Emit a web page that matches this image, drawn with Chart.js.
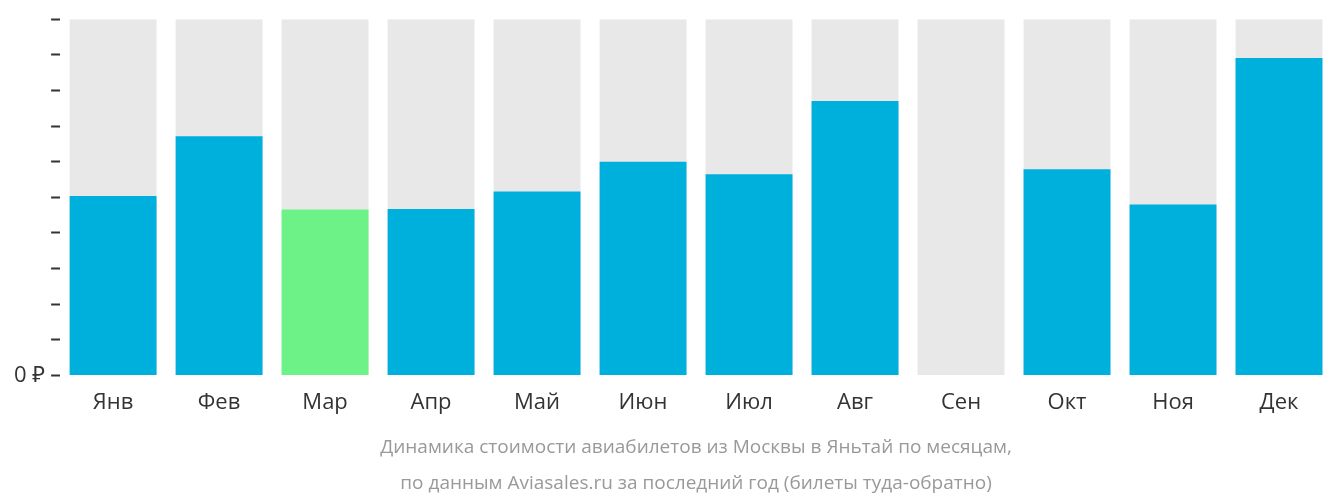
<!DOCTYPE html>
<html>
<head>
<meta charset="utf-8">
<script src="https://cdn.jsdelivr.net/npm/chart.js@4"></script>
<style>
  body { margin: 0; background: #fff; }
  #wrap { width: 1332px; height: 502px; }
</style>
</head>
<body>
<div id="wrap"><canvas id="chart"></canvas></div>
<script>
// Data
const months = ['Янв', 'Фев', 'Мар', 'Апр', 'Май', 'Июн', 'Июл', 'Авг', 'Сен', 'Окт', 'Ноя', 'Дек'];
const prices = [36000, 48000, 33300, 33400, 36900, 42900, 40400, 55100, 0, 41400, 34300, 63700];
const cheapestIndex = 2;
const backgroundMax = 71500;
const tickStep = 7000;
const labelStep = 35000;

const barColors = prices.map((v, i) => i === cheapestIndex ? '#6cf287' : '#00b0dc');

Chart.defaults.font.family = '"Open Sans", "Noto Sans", sans-serif';

function formatPrice(v) {
    const r = Math.round(v);
    if (r % labelStep !== 0) return '';
    return r === 0 ? '0 ₽' : (r / 1000) + ' 000 ₽';
}

new Chart(document.getElementById('chart'), {
    type: 'bar',
    data: {
        labels: months,
        datasets: [
            {
                data: prices,
                backgroundColor: barColors,
                barPercentage: 0.82,
                categoryPercentage: 1,
                order: 0
            },
            {
                data: months.map(() => backgroundMax),
                backgroundColor: '#e8e8e8',
                barPercentage: 0.82,
                categoryPercentage: 1,
                order: 1
            }
        ]
    },
    options: {
        responsive: true,
        maintainAspectRatio: false,
        animation: false,
        layout: { padding: { top: 0, right: 0, left: 8, bottom: 0 } },
        plugins: { legend: { display: false }, tooltip: { enabled: false } },
        scales: {
            x: {
                stacked: true,
                grid: { display: false },
                border: { display: false },
                ticks: { color: '#333', font: { size: 22 }, padding: 6 },
                title: {
                    display: true,
                    text: ['Динамика стоимости авиабилетов из Москвы в Яньтай по месяцам,',
                           'по данным Aviasales.ru за последний год (билеты туда-обратно)'],
                    color: '#999',
                    font: { size: 19, lineHeight: 1.9 },
                    padding: { top: 8, bottom: 0 }
                }
            },
            y: {
                min: 0,
                max: backgroundMax,
                border: { display: false },
                grid: { drawOnChartArea: false, tickLength: 9, tickColor: '#333', tickWidth: 2 },
                ticks: {
                    stepSize: tickStep,
                    autoSkip: false,
                    color: '#333',
                    font: { size: 22 },
                    padding: 6,
                    callback: formatPrice
                }
            }
        }
    }
});
</script>
</body>
</html>
